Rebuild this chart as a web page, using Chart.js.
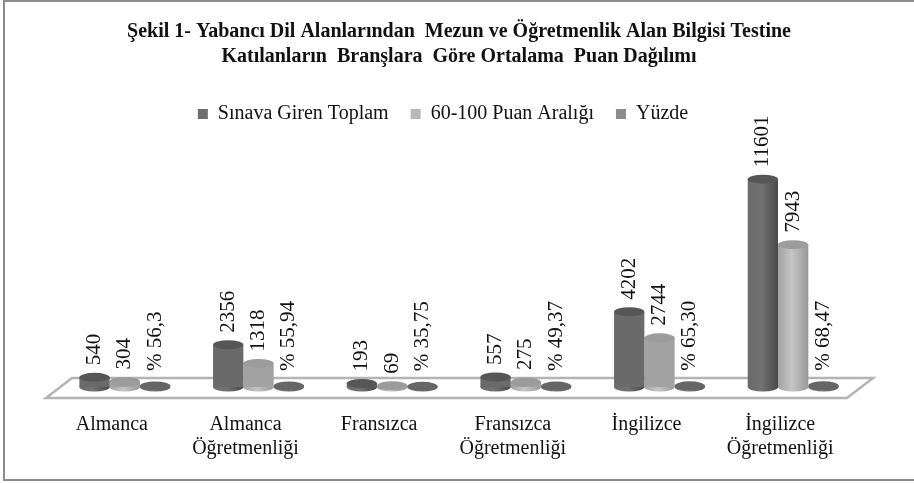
<!DOCTYPE html>
<html>
<head>
<meta charset="utf-8">
<script src="https://cdn.jsdelivr.net/npm/chart.js@4"></script>
<style>
    html, body { margin: 0; padding: 0; background: #fff; }
    canvas { display: block; }
</style>
</head>
<body>
<canvas id="chartScores" width="914" height="483"></canvas>
<script>
const categories = [
    'Almanca',
    ['Almanca', 'Öğretmenliği'],
    'Fransızca',
    ['Fransızca', 'Öğretmenliği'],
    'İngilizce',
    ['İngilizce', 'Öğretmenliği']
];
const totalValues = [540, 2356, 193, 557, 4202, 11601];
const rangeValues = [304, 1318, 69, 275, 2744, 7943];
const percentValues = [56.3, 55.94, 35.75, 49.37, 65.30, 68.47];
const percentLabels = ['% 56,3', '% 55,94', '% 35,75', '% 49,37', '% 65,30', '% 68,47'];
const titleLines = [
    'Şekil 1- Yabancı Dil Alanlarından  Mezun ve Öğretmenlik Alan Bilgisi Testine',
    'Katılanların  Branşlara  Göre Ortalama  Puan Dağılımı'
];

const fontFamily = '"Liberation Serif", "Times New Roman", serif';

// left, middle and right of the cylinder body, then the cap
const shades = [
    { left: '#6a6a6a', mid: '#727272', right: '#484848', cap: '#565656' },
    { left: '#a2a2a2', mid: '#c6c6c6', right: '#989898', cap: '#9c9c9c' },
    { left: '#6e6e6e', mid: '#7a7a7a', right: '#585858', cap: '#666666' }
];

function drawEllipse(ctx, x, y, width, color) {
    ctx.fillStyle = color;
    ctx.beginPath();
    ctx.ellipse(x, y, width / 2, 4.5, 0, 0, Math.PI * 2);
    ctx.fill();
}

const framePlugin = {
    id: 'frame',
    beforeDraw(chart) {
        const ctx = chart.ctx;
        ctx.save();
        ctx.fillStyle = '#ffffff';
        ctx.fillRect(0, 0, chart.width, chart.height);
        ctx.fillStyle = '#8c8c8c';
        ctx.fillRect(3, 0, chart.width - 3, 2);
        ctx.fillRect(3, 0, 2, 481);
        ctx.fillRect(3, 479, chart.width - 3, 2);
        ctx.restore();
    }
};

// the legend sits left of centre and above where the layout puts it
const legendShiftPlugin = {
    id: 'legendShift',
    afterLayout(chart) {
        chart.legend.left -= 16;
        chart.legend.right -= 16;
        chart.legend.top -= 38;
        chart.legend.bottom -= 38;
    }
};

const floorPlugin = {
    id: 'floor',
    beforeDatasetsDraw(chart) {
        const ctx = chart.ctx;
        const area = chart.chartArea;
        ctx.save();
        ctx.strokeStyle = '#b4b4b4';
        ctx.lineWidth = 2.5;
        ctx.beginPath();
        ctx.moveTo(area.left + 14, area.bottom - 9);
        ctx.lineTo(area.right + 13, area.bottom - 9);
        ctx.lineTo(area.right - 13, area.bottom + 11);
        ctx.lineTo(area.left - 12, area.bottom + 11);
        ctx.closePath();
        ctx.stroke();
        ctx.restore();
    }
};

const cylinderPlugin = {
    id: 'cylinder',
    beforeDatasetDraw(chart, args) {
        const ctx = chart.ctx;
        const shade = shades[args.index];
        args.meta.data.forEach(bar => {
            const left = bar.x - bar.width / 2;
            const gradient = ctx.createLinearGradient(left, 0, left + bar.width, 0);
            gradient.addColorStop(0, shade.left);
            gradient.addColorStop(0.45, shade.mid);
            gradient.addColorStop(1, shade.right);
            bar.options.backgroundColor = gradient;
            drawEllipse(ctx, bar.x, bar.base, bar.width, gradient);
        });
    },
    afterDatasetDraw(chart, args) {
        args.meta.data.forEach(bar => {
            drawEllipse(chart.ctx, bar.x, bar.y, bar.width, shades[args.index].cap);
        });
    }
};

const rotatedLabelPlugin = {
    id: 'rotatedLabels',
    afterDatasetsDraw(chart) {
        const ctx = chart.ctx;
        ctx.save();
        ctx.fillStyle = '#111111';
        ctx.font = '21px ' + fontFamily;
        ctx.textAlign = 'left';
        ctx.textBaseline = 'middle';
        chart.data.datasets.forEach((dataset, i) => {
            chart.getDatasetMeta(i).data.forEach((bar, j) => {
                const text = dataset.pointLabels ? dataset.pointLabels[j] : String(dataset.data[j]);
                ctx.save();
                ctx.translate(bar.x, bar.y - (dataset.pointLabels ? 15 : 12));
                ctx.rotate(-Math.PI / 2);
                ctx.fillText(text, 0, 0);
                ctx.restore();
            });
        });
        ctx.restore();
    }
};

new Chart(document.getElementById('chartScores'), {
    type: 'bar',
    data: {
        labels: categories,
        datasets: [
            { label: 'Sınava Giren Toplam', data: totalValues, backgroundColor: '#6e6e6e' },
            { label: '60-100 Puan Aralığı', data: rangeValues, backgroundColor: '#b8b8b8' },
            { label: 'Yüzde', data: percentValues, pointLabels: percentLabels, backgroundColor: '#8c8c8c' }
        ]
    },
    options: {
        responsive: false,
        animation: false,
        categoryPercentage: 0.68,
        barPercentage: 1,
        layout: {
            padding: { left: 58, right: 54, top: 19, bottom: 0 }
        },
        plugins: {
            title: {
                display: true,
                text: titleLines,
                color: '#111111',
                font: { family: fontFamily, size: 20, weight: 'bold', lineHeight: 1.25 },
                padding: { top: 0, bottom: 51 }
            },
            legend: {
                position: 'top',
                labels: {
                    color: '#111111',
                    font: { family: fontFamily, size: 20 },
                    boxWidth: 10,
                    boxHeight: 10,
                    padding: 22
                }
            },
            tooltip: { enabled: false }
        },
        scales: {
            x: {
                afterFit(scale) {
                    scale.height = 96;
                },
                grid: { display: false },
                border: { display: false },
                ticks: {
                    color: '#111111',
                    font: { family: fontFamily, size: 20, lineHeight: 1.2 },
                    padding: 18,
                    labelOffset: -13,
                    maxRotation: 0,
                    autoSkip: false
                }
            },
            y: {
                display: false,
                min: 0,
                max: 12000
            }
        }
    },
    plugins: [framePlugin, legendShiftPlugin, floorPlugin, cylinderPlugin, rotatedLabelPlugin]
});
</script>
</body>
</html>
